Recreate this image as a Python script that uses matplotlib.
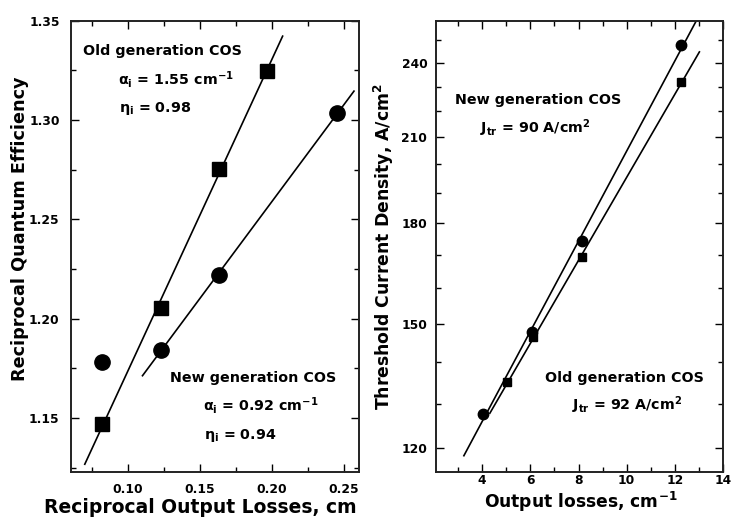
import numpy as np
import matplotlib
matplotlib.use("Agg")
import matplotlib.pyplot as plt
from matplotlib.ticker import FixedLocator, NullFormatter, FormatStrFormatter

plt.rcParams['font.family'] = ['DejaVu Sans']
plt.rcParams['font.weight'] = 'bold'
plt.rcParams['mathtext.fontset'] = 'dejavusans'

# ---- Left panel data ----
left_x_old = [0.0815, 0.1226, 0.1634, 0.1966]
left_y_old = [1.147, 1.2053, 1.2753, 1.3249]
left_x_new = [0.0815, 0.1226, 0.1634, 0.2454]
left_y_new = [1.178, 1.1844, 1.222, 1.3034]
left_fit_old_range = [0.0698, 0.2076]
left_fit_new_range = [0.110, 0.2573]

# ---- Right panel data ----
right_x_new = [4.05, 6.07, 8.15, 12.27]
right_y_new = [127.7, 148.0, 174.3, 248.0]
right_x_old = [5.05, 6.13, 8.15, 12.27]
right_y_old = [135.2, 146.5, 169.2, 232.0]
right_fit_new_range = [3.24, 13.2]
right_fit_old_range = [4.32, 13.02]

left_xticks = [0.10, 0.15, 0.20, 0.25]
left_yticks = [1.15, 1.20, 1.25, 1.30, 1.35]
right_xticks = [4, 6, 8, 10, 12, 14]
right_yticks = [120, 150, 180, 210, 240]
right_yminor = [130, 140, 160, 170, 190, 200, 220, 230, 250]

fig = plt.figure(figsize=(7.32, 5.21), dpi=100)
axL = fig.add_axes([70.7/732, 1-471.7/521, 288.6/732, 451/521])
axR = fig.add_axes([435.7/732, 1-471.7/521, 287.3/732, 451/521])

lw = 1.2
# Left fits
p_old = np.polyfit(left_x_old, left_y_old, 1)
p_new = np.polyfit(left_x_new[1:], left_y_new[1:], 1)
xo = np.array(left_fit_old_range)
xn = np.array(left_fit_new_range)
axL.plot(xo, np.polyval(p_old, xo), color='black', lw=lw)
axL.plot(xn, np.polyval(p_new, xn), color='black', lw=lw)
axL.plot(left_x_old, left_y_old, 's', color='black', ms=9.5, ls='none')
axL.plot(left_x_new, left_y_new, 'o', color='black', ms=11, ls='none')

axL.set_xlim(0.06, 0.261)
axL.set_ylim(1.123, 1.35)
axL.xaxis.set_major_locator(FixedLocator(left_xticks))
axL.xaxis.set_minor_locator(FixedLocator([0.075, 0.125, 0.175, 0.225]))
axL.yaxis.set_major_locator(FixedLocator(left_yticks))
axL.yaxis.set_minor_locator(FixedLocator([1.125, 1.175, 1.225, 1.275, 1.325]))
axL.xaxis.set_major_formatter(FormatStrFormatter('%.2f'))
axL.yaxis.set_major_formatter(FormatStrFormatter('%.2f'))

# Right fits (linear in log scale)
q_new = np.polyfit(right_x_new, np.log(right_y_new), 1)
q_old = np.polyfit(right_x_old, np.log(right_y_old), 1)
rn = np.array(right_fit_new_range)
ro = np.array(right_fit_old_range)
axR.plot(rn, np.exp(np.polyval(q_new, rn)), color='black', lw=lw)
axR.plot(ro, np.exp(np.polyval(q_old, ro)), color='black', lw=lw)
axR.plot(right_x_new, right_y_new, 'o', color='black', ms=7.5, ls='none')
axR.plot(right_x_old, right_y_old, 's', color='black', ms=6.2, ls='none')

axR.set_yscale('log')
axR.set_xlim(2.07, 14)
axR.set_ylim(115, 259)
axR.xaxis.set_major_locator(FixedLocator(right_xticks))
axR.xaxis.set_minor_locator(FixedLocator([3, 5, 7, 9, 11, 13]))
axR.yaxis.set_major_locator(FixedLocator(right_yticks))
axR.yaxis.set_minor_locator(FixedLocator(right_yminor))
axR.yaxis.set_major_formatter(FormatStrFormatter('%d'))
axR.yaxis.set_minor_formatter(NullFormatter())

for ax in (axL, axR):
    for s in ax.spines.values():
        s.set_linewidth(1.4)
        s.set_color('#222222')
    ax.tick_params(which='both', direction='in', top=True, right=True,
                   width=1.0, colors='black', labelsize=8.8)
    ax.tick_params(which='major', length=6, pad=8)
    ax.tick_params(which='minor', length=3.5)
    for lab in ax.get_xticklabels() + ax.get_yticklabels():
        lab.set_fontweight('bold')
axR.tick_params(axis='x', which='major', pad=2)
axR.tick_params(axis='y', which='major', pad=6)

axL.set_xlabel('Reciprocal Output Losses, cm', fontsize=13.5, fontweight='bold', va='center')
axL.xaxis.set_label_coords(0.45, -0.08)
axL.set_ylabel('Reciprocal Quantum Efficiency', fontsize=12.7, fontweight='bold', va='center')
axL.yaxis.set_label_coords(-0.176, 0.538)

axR.set_xlabel(r'Output losses, cm$^{\mathbf{-1}}$', fontsize=12.3, fontweight='bold', va='center')
axR.xaxis.set_label_coords(0.505, -0.068)
axR.set_ylabel(r'Threshold Current Density, A/cm$^{\mathbf{2}}$', fontsize=12.4, fontweight='bold', va='center')
axR.yaxis.set_label_coords(-0.18, 0.50)

fs = 10.3
tkw = dict(fontsize=fs, fontweight='bold', ha='left', va='center')
axL.text(0.044, 0.933, 'Old generation COS', transform=axL.transAxes, **tkw)
axL.text(0.165, 0.870, r'$\mathrm{\alpha}_{\mathbf{i}}$ = 1.55 cm$^{\mathbf{-1}}$', transform=axL.transAxes, **tkw)
axL.text(0.168, 0.806, r'$\mathrm{\eta}_{\mathbf{i}}$ = 0.98', transform=axL.transAxes, **tkw)
axL.text(0.344, 0.208, 'New generation COS', transform=axL.transAxes, **tkw)
axL.text(0.460, 0.146, r'$\mathrm{\alpha}_{\mathbf{i}}$ = 0.92 cm$^{\mathbf{-1}}$', transform=axL.transAxes, **tkw)
axL.text(0.462, 0.081, r'$\mathrm{\eta}_{\mathbf{i}}$ = 0.94', transform=axL.transAxes, **tkw)

axR.text(0.067, 0.824, 'New generation COS', transform=axR.transAxes, **tkw)
axR.text(0.154, 0.761, r'J$_{\mathbf{tr}}$ = 90 A/cm$^{\mathbf{2}}$', transform=axR.transAxes, **tkw)
axR.text(0.380, 0.207, 'Old generation COS', transform=axR.transAxes, **tkw)
axR.text(0.473, 0.148, r'J$_{\mathbf{tr}}$ = 92 A/cm$^{\mathbf{2}}$', transform=axR.transAxes, **tkw)

fig.savefig('out.png', dpi=100)
